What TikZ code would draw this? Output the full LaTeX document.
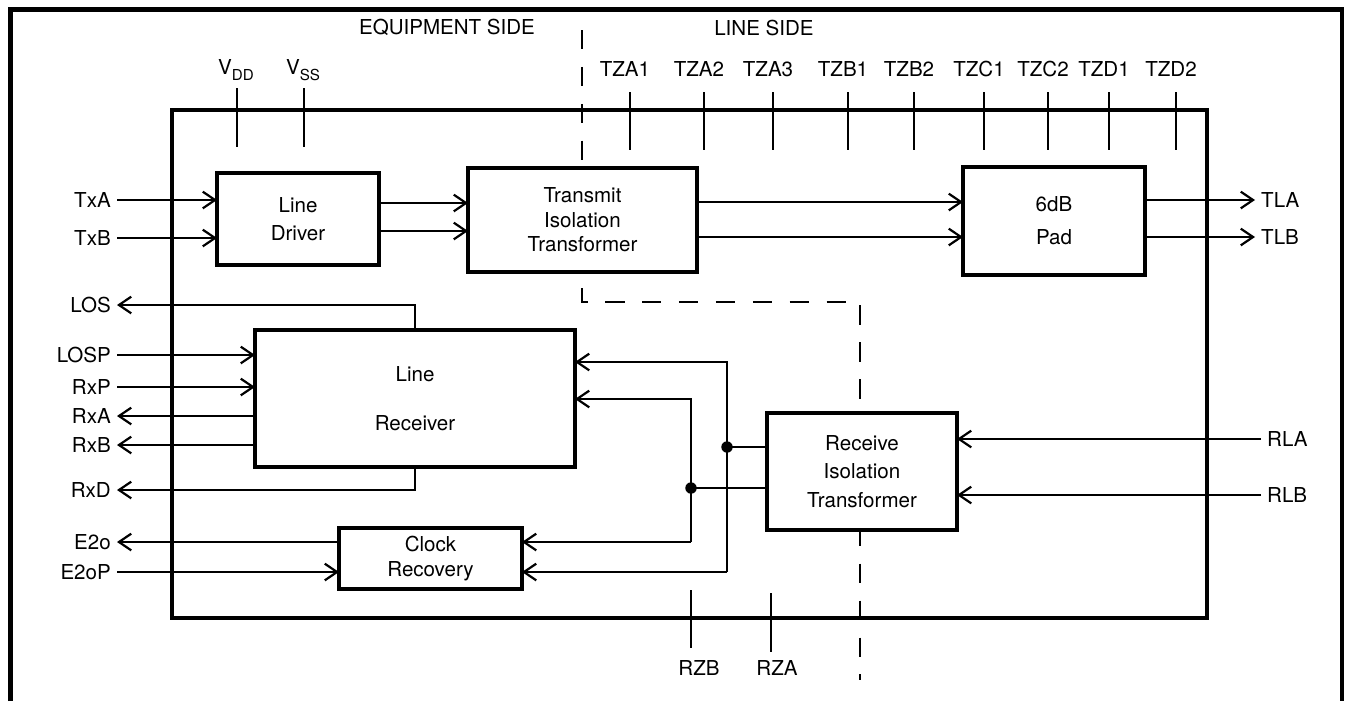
\documentclass[tikz,border=0pt]{standalone}
\usepackage{fontspec}
\setmainfont{TeX Gyre Heros}
\usetikzlibrary{calc,arrows.meta}
\newcommand{\PinSub}[2]{#1\raisebox{-3.4pt}{\fontsize{8.6}{9}\selectfont #2}}

\begin{document}
\begin{tikzpicture}[x=0.02cm,y=-0.02cm,
  font=\fontsize{11.7}{14}\selectfont,
  block/.style={draw,fill=white,line width=2pt,align=center,inner sep=0pt,outer sep=0pt},
  arr/.style={line width=1.25pt,-{Straight Barb[length=7pt,width=9.5pt]}},
  wire/.style={line width=1.25pt},
  pinline/.style={line width=1.25pt},
  sideline/.style={line width=1.25pt,dash pattern=on 11pt off 10pt},
  jdot/.style={circle,fill,inner sep=0pt,minimum size=6.5pt},
  lname/.style={anchor=east},
  rname/.style={anchor=west}]
\useasboundingbox (0,0) rectangle (1348,701);
\draw[line width=2.7pt] (10.5,701) -- (10.5,9.5) -- (1342,9.5) -- (1342,701);
\draw[line width=2pt] (172,110) rectangle (1207,618);

\node (eqside) at (447,27) {EQUIPMENT SIDE};
\node (lnside) at (764,28) {LINE SIDE};
\draw[sideline] (582,30) -- (582,302) -- (860,302) -- (860,680);

\node (vdd) at (236,70) {\PinSub{V}{DD}};
\node (vss) at (303,70) {\PinSub{V}{SS}};
\draw[pinline] (237,88) -- (237,147);
\draw[pinline] (304,88) -- (304,147);
\foreach \pin/\x in {TZA1/630,TZA2/704,TZA3/773,TZB1/848,TZB2/914,TZC1/984,TZC2/1048,TZD1/1109,TZD2/1176}{
  \node (\pin) at (\x-5,69) {\pin};
  \draw[pinline] (\x,92) -- (\x,150);
}
\node (rzb) at (699,668) {RZB};
\node (rza) at (777,668) {RZA};
\draw[pinline] (691,590) -- (691,648);
\draw[pinline] (771,593) -- (771,652);

\node[block,minimum width=162*0.02cm,minimum height=92*0.02cm] (ld) at (298,219) {Line\\[2pt]Driver};
\node[block,minimum width=229*0.02cm,minimum height=104*0.02cm] (tx) at (582.5,220) {Transmit\\Isolation\\Transformer};
\node[block,minimum width=182*0.02cm,minimum height=108*0.02cm] (pad) at (1054,221) {6dB\\[4.7pt]Pad};
\node[block,minimum width=320*0.02cm,minimum height=137*0.02cm] (lr) at (415,398.5) {Line\\[14pt]Receiver};
\node[block,minimum width=183*0.02cm,minimum height=61*0.02cm] (cr) at (430.5,558.5) {Clock\\Recovery};
\node[block,minimum width=190*0.02cm,minimum height=117*0.02cm] (rx) at (862,471.5) {Receive\\[2.4pt]Isolation\\[2.4pt]Transformer};

\node[lname] (txa) at (117,200) {TxA};
\node[lname] (txb) at (117,238) {TxB};
\node[lname] (los) at (117,305) {LOS};
\node[lname] (losp) at (117,355) {LOSP};
\node[lname] (rxp) at (117,387) {RxP};
\node[lname] (rxa) at (117,416) {RxA};
\node[lname] (rxb) at (117,445) {RxB};
\node[lname] (rxd) at (117,490) {RxD};
\node[lname] (e2o) at (117,542) {E2o};
\node[lname] (e2op) at (117,572) {E2oP};
\node[rname] (tla) at (1255,200) {TLA};
\node[rname] (tlb) at (1255,237) {TLB};
\node[rname] (rla) at (1261,439) {RLA};
\node[rname] (rlb) at (1261,495) {RLB};

\draw[arr] (txa.east) -- (ld.west |- txa);
\draw[arr] (txb.east) -- (ld.west |- txb);
\draw[arr] (ld.east |- 0,203) -- (tx.west |- 0,203);
\draw[arr] (ld.east |- 0,231) -- (tx.west |- 0,231);
\draw[arr] (tx.east |- 0,202) -- (pad.west |- 0,202);
\draw[arr] (tx.east |- 0,237) -- (pad.west |- 0,237);
\draw[arr] (pad.east |- tla) -- (tla.west);
\draw[arr] (pad.east |- tlb) -- (tlb.west);

\draw[arr] (lr.north) |- (los.east);
\draw[arr] (losp.east) -- (lr.west |- losp);
\draw[arr] (rxp.east) -- (lr.west |- rxp);
\draw[arr] (lr.west |- rxa) -- (rxa.east);
\draw[arr] (lr.west |- rxb) -- (rxb.east);
\draw[arr] (lr.south) |- (rxd.east);
\draw[arr] (cr.west |- e2o) -- (e2o.east);
\draw[arr] (e2op.east) -- (cr.west |- e2op);

\draw[arr] (rla.west) -- (rx.east |- rla);
\draw[arr] (rlb.west) -- (rx.east |- rlb);

\coordinate (ja) at (727,447);
\coordinate (jb) at (691,488);
\draw[wire] (rx.west |- ja) -- (ja);
\draw[wire] (rx.west |- jb) -- (jb);
\draw[arr] (ja |- 0,572) -- (ja |- 0,362) -- (lr.east |- 0,362);
\draw[arr] (ja |- 0,572) -- (cr.east |- 0,572);
\draw[arr] (jb |- 0,542) -- (jb |- 0,399) -- (lr.east |- 0,399);
\draw[arr] (jb |- 0,542) -- (cr.east |- 0,542);
\node[jdot] (dota) at (ja) {};
\node[jdot] (dotb) at (jb) {};
\end{tikzpicture}
\end{document}
